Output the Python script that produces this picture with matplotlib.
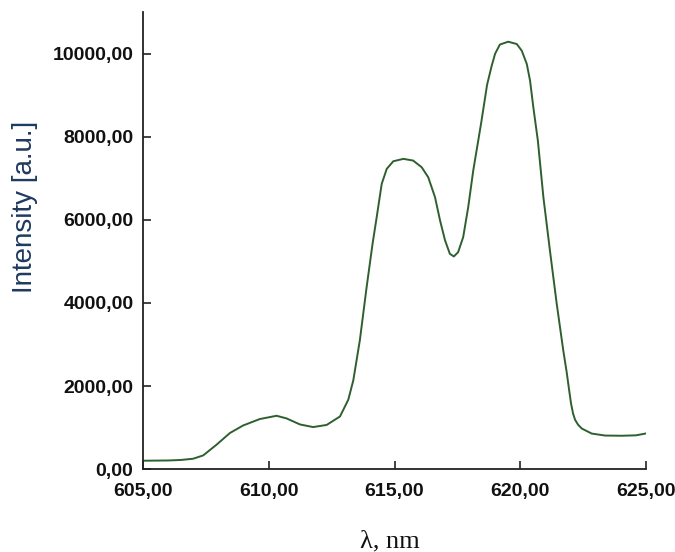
#!/usr/bin/env python3
# coding: utf-8
import numpy as np
import matplotlib
matplotlib.use("Agg")
import matplotlib.pyplot as plt
from matplotlib.ticker import FuncFormatter

# Emission spectrum
wavelength = [605.0, 606.0, 606.5, 606.99, 607.39, 607.92, 608.45, 608.98, 609.64, 610.31,
              610.71, 611.24, 611.76, 612.30, 612.83, 613.16, 613.36, 613.62, 613.89, 614.12,
              614.29, 614.49, 614.69, 614.95, 615.35, 615.74, 616.08, 616.34, 616.61, 616.81,
              617.01, 617.20, 617.36, 617.53, 617.73, 617.93, 618.13, 618.45, 618.68, 618.86,
              619.0, 619.19, 619.52, 619.86, 620.06, 620.26, 620.39, 620.52, 620.70, 620.92,
              621.18, 621.45, 621.71, 621.85, 621.94, 622.02, 622.10, 622.18, 622.30, 622.45,
              622.84, 623.37, 624.04, 624.6, 625.0]
intensity = [204, 210, 222, 252, 332, 589, 870, 1053, 1207, 1286,
             1221, 1077, 1014, 1065, 1269, 1671, 2139, 3101, 4382, 5400,
             6065, 6868, 7228, 7411, 7469, 7428, 7267, 7026, 6546, 5986,
             5505, 5184, 5120, 5224, 5585, 6306, 7187, 8350, 9250, 9700,
             10000, 10220, 10288, 10233, 10072, 9752, 9351, 8710, 7909, 6546,
             5264, 3982, 2861, 2320, 1920, 1580, 1340, 1190, 1070, 978,
             858, 810, 805, 815, 860]

x_ticks = [605, 610, 615, 620, 625]
y_ticks = [0, 2000, 4000, 6000, 8000, 10000]


def comma_fmt(v, pos):
    # decimal comma, two digits
    return f"{v:.2f}".replace(".", ",")


fig = plt.figure(figsize=(6.75, 5.52), dpi=100)
ax = fig.add_axes([0.212, 0.150, 0.745, 0.828])

ax.plot(wavelength, intensity, color="#2E5F2E", lw=1.4)

ax.set_xlim(605, 625)
ax.set_ylim(0, 11000)
ax.set_xticks(x_ticks)
ax.set_yticks(y_ticks)
ax.xaxis.set_major_formatter(FuncFormatter(comma_fmt))
ax.yaxis.set_major_formatter(FuncFormatter(comma_fmt))

for side in ["top", "right"]:
    ax.spines[side].set_visible(False)
for side in ["left", "bottom"]:
    ax.spines[side].set_linewidth(1.3)
    ax.spines[side].set_color("#222222")

ax.tick_params(direction="in", length=6, width=1.2, colors="#222222",
               labelcolor="#111111")
ax.tick_params(axis="x", pad=10)
ax.tick_params(axis="y", pad=7)
for lab in ax.get_xticklabels() + ax.get_yticklabels():
    lab.set_fontfamily("Liberation Sans")
    lab.set_fontweight("bold")
    lab.set_fontsize(14)

fig.text(0.037, 0.626, "Intensity [a.u.]", rotation=90, ha="center", va="center",
         fontsize=20, family="Liberation Sans", color="#1F3A60")
fig.text(0.578, 0.009, "\u03bb, nm", ha="center", va="baseline",
         fontsize=19, family="Liberation Serif", color="#111111")

fig.savefig("out.png", dpi=100)
